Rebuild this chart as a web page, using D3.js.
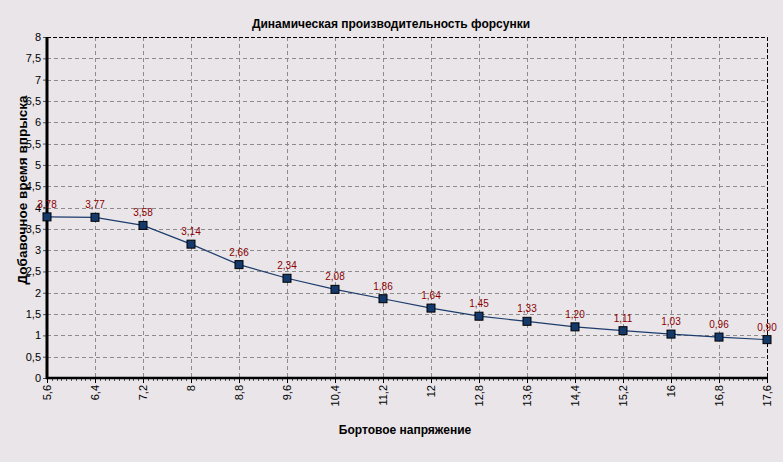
<!DOCTYPE html>
<html><head><meta charset="utf-8">
<script src="https://cdn.jsdelivr.net/npm/d3@7"></script>
<style>
html,body{margin:0;padding:0;background:#e9e5e9;}
svg{display:block;font-family:"Liberation Sans",Arial,sans-serif;}
</style></head>
<body>
<svg id="c" width="783" height="462"></svg>
<script>
const voltages = [5.6, 6.4, 7.2, 8, 8.8, 9.6, 10.4, 11.2, 12, 12.8, 13.6, 14.4, 15.2, 16, 16.8, 17.6];
const injTime = [3.78, 3.77, 3.58, 3.14, 2.66, 2.34, 2.08, 1.86, 1.64, 1.45, 1.33, 1.20, 1.11, 1.03, 0.96, 0.90];
const yTicks = [0, 0.5, 1, 1.5, 2, 2.5, 3, 3.5, 4, 4.5, 5, 5.5, 6, 6.5, 7, 7.5, 8];
const titleText = "Динамическая производительность форсунки";
const xTitle = "Бортовое напряжение";
const yTitle = "Добавочное время впрыска";

const fmt = v => String(v).replace(".", ",");
const fmt2 = v => v.toFixed(2).replace(".", ",");

const m = {l:47, r:767, t:37, b:378};
const svg = d3.select("#c");
const x = d3.scaleLinear().domain([5.6, 17.6]).range([m.l, m.r]);
const y = d3.scaleLinear().domain([0, 8]).range([m.b, m.t]);

// grid
const g = svg.append("g");
g.selectAll(".hg").data(yTicks.filter(d => d > 0 && d < 8)).enter().append("line")
  .attr("x1", m.l).attr("x2", m.r).attr("y1", d => Math.round(y(d)) + 0.5).attr("y2", d => Math.round(y(d)) + 0.5)
  .attr("stroke", "#8c8c8c").attr("stroke-dasharray", "4,3");
g.selectAll(".vg").data(voltages.slice(1, -1)).enter().append("line")
  .attr("y1", m.t).attr("y2", m.b).attr("x1", d => Math.round(x(d)) + 0.5).attr("x2", d => Math.round(x(d)) + 0.5)
  .attr("stroke", "#8c8c8c").attr("stroke-dasharray", "4,3");
// top & right borders
g.append("line").attr("x1", m.l).attr("x2", m.r).attr("y1", m.t + 0.5).attr("y2", m.t + 0.5)
  .attr("stroke", "#000").attr("stroke-dasharray", "4,2");
g.append("line").attr("x1", m.r + 0.5).attr("x2", m.r + 0.5).attr("y1", m.t).attr("y2", m.b)
  .attr("stroke", "#000").attr("stroke-dasharray", "4,2");

// y axis
const yAxis = d3.axisLeft(y).tickValues(yTicks).tickFormat(fmt).tickSize(4).tickPadding(2);
const ya = svg.append("g").attr("transform", `translate(${m.l},0)`).call(yAxis);
ya.select(".domain").remove();
ya.selectAll("line").attr("stroke", "#555");
ya.selectAll("text").attr("font-size", 11).attr("fill", "#000");
svg.append("line").attr("x1", m.l).attr("x2", m.l).attr("y1", m.t).attr("y2", m.b + 1)
  .attr("stroke", "#000").attr("stroke-width", 3);

// x axis minor ticks
const minor = d3.range(0, 151).map(i => 5.6 + i * 0.08);
svg.append("g").selectAll("line").data(minor).enter().append("line")
  .attr("x1", d => Math.round(x(d)) + 0.5).attr("x2", d => Math.round(x(d)) + 0.5)
  .attr("y1", m.b).attr("y2", m.b + 3).attr("stroke", "#555");
const xAxis = d3.axisBottom(x).tickValues(voltages).tickFormat(fmt).tickSize(5).tickPadding(3);
const xa = svg.append("g").attr("transform", `translate(0,${m.b})`).call(xAxis);
xa.select(".domain").remove();
xa.selectAll("line").attr("stroke", "#000");
xa.selectAll("text").attr("font-size", 11).attr("fill", "#000")
  .attr("transform", "rotate(-90)").attr("text-anchor", "end")
  .attr("x", -7).attr("y", 0).attr("dy", "0.35em");
svg.append("line").attr("x1", m.l - 1).attr("x2", m.r + 1).attr("y1", m.b).attr("y2", m.b)
  .attr("stroke", "#000").attr("stroke-width", 2.5);

// line
const line = d3.line().x((d, i) => x(voltages[i])).y(d => y(d));
svg.append("path").datum(injTime).attr("d", line).attr("fill", "none")
  .attr("stroke", "#1c3c6c").attr("stroke-width", 1.2);
svg.selectAll(".pt").data(injTime).enter().append("rect")
  .attr("x", (d, i) => x(voltages[i]) - 4).attr("y", d => y(d) - 4)
  .attr("width", 8).attr("height", 8).attr("fill", "#143a6c").attr("stroke", "#000").attr("stroke-width", 1);
svg.selectAll(".lbl").data(injTime).enter().append("text")
  .attr("x", (d, i) => x(voltages[i])).attr("y", d => y(d) - 9)
  .attr("text-anchor", "middle").attr("font-size", 10).attr("fill", "#8b0000").text(fmt2);

// titles
svg.append("text").attr("x", 391).attr("y", 28).attr("text-anchor", "middle")
  .attr("font-size", 12).attr("font-weight", "bold").text(titleText);
svg.append("text").attr("x", 405).attr("y", 434).attr("text-anchor", "middle")
  .attr("font-size", 12).attr("font-weight", "bold").text(xTitle);
svg.append("text").attr("transform", "translate(27,190) rotate(-90)").attr("text-anchor", "middle")
  .attr("font-size", 13.5).attr("font-weight", "bold").text(yTitle);
</script>
</body></html>
